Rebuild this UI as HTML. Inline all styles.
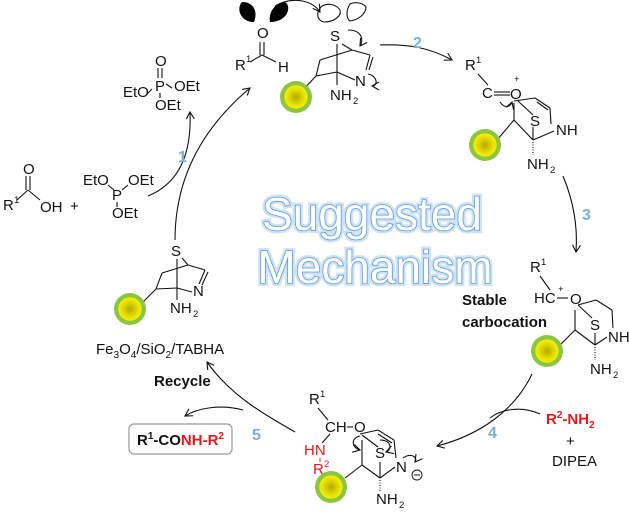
<!DOCTYPE html>
<html><head><meta charset="utf-8"><style>
html,body{margin:0;padding:0;background:#fff;}
svg{display:block;font-family:"Liberation Sans",sans-serif;}
.t{font-size:15px;fill:#111;}
.s{font-size:9.5px;fill:#111;}
.b{font-size:15px;font-weight:bold;fill:#111;}
.n{font-size:16px;font-weight:bold;fill:#7aaed8;}
.r{fill:#e8161b;}
.l{stroke:#111;stroke-width:1.1;fill:none;}
.a{stroke:#111;stroke-width:1.1;fill:none;marker-end:url(#ah);}
</style></head><body>
<svg width="629" height="512" viewBox="0 0 629 512">
<defs>
<marker id="ah" markerWidth="10" markerHeight="10" refX="8" refY="5" orient="auto" markerUnits="userSpaceOnUse"><path d="M1,1 L8,5 L1,9" fill="none" stroke="#111" stroke-width="1.1"/></marker>
<radialGradient id="g"><stop offset="0" stop-color="#b8a800"/><stop offset="0.5" stop-color="#e6e000"/><stop offset="0.72" stop-color="#f2ee10"/><stop offset="0.74" stop-color="#8cc63f"/><stop offset="1" stop-color="#8cc63f"/></radialGradient>
</defs>

<!-- Title -->
<g font-size="46" font-family="'Liberation Sans',sans-serif" fill="#fff" stroke="#5b9bd5" stroke-width="1.6" text-anchor="middle" style="paint-order:stroke">
<text x="372" y="230" stroke="#cfe3f5" stroke-width="6">Suggested</text>
<text x="372" y="230">Suggested</text>
<text x="375" y="283" stroke="#cfe3f5" stroke-width="6">Mechanism</text>
<text x="375" y="283">Mechanism</text>
</g>

<!-- Top: aldehyde with lone pairs -->
<path d="M242,2 C236,8 240,22 254,22 C258,12 254,2 242,2Z" fill="#000"/>
<path d="M285,2 C292,6 288,22 270,22 C268,12 276,2 285,2Z" fill="#000"/>
<path d="M322,6 C316,12 316,20 324,22 C334,22 342,16 340,10 C336,4 328,3 322,6Z" class="l"/>
<path d="M350,4 C346,10 346,18 350,21 C358,20 366,14 366,7 C362,2 354,2 350,4Z" class="l"/>
<path d="M275,6 C292,-4 312,0 320,12" class="a"/>
<text x="257" y="38" class="t">O</text>
<line x1="260" y1="42" x2="260" y2="55" class="l"/><line x1="264" y1="42" x2="264" y2="55" class="l"/>
<line x1="262" y1="55" x2="250" y2="62" class="l"/><line x1="262" y1="55" x2="276" y2="62" class="l"/>
<text x="235" y="70" class="t">R</text><text x="246" y="62" class="s">1</text>
<text x="278" y="72" class="t">H</text>
<!-- top bicyclic -->
<text x="330" y="41" class="t">S</text>
<line x1="337" y1="44" x2="337" y2="72" class="l"/>
<line x1="342" y1="44" x2="352" y2="50" class="l"/><line x1="352" y1="50" x2="370" y2="55" class="l"/>
<line x1="370" y1="55" x2="366" y2="70" class="l"/><line x1="373" y1="57" x2="369" y2="70" class="l"/>
<line x1="352" y1="50" x2="320" y2="60" class="l"/><line x1="320" y1="60" x2="316" y2="76" class="l"/>
<line x1="316" y1="76" x2="337" y2="72" class="l"/><line x1="337" y1="72" x2="355" y2="80" class="l"/>
<line x1="316" y1="76" x2="303" y2="90" class="l"/>
<line x1="337" y1="72" x2="337" y2="85" class="l"/>
<text x="355" y="86" class="t">N</text>
<text x="330" y="100" class="t">NH</text><text x="353" y="104" class="s">2</text>
<path d="M348,30 C362,30 364,40 360,46" class="a"/>
<path d="M368,74 C378,76 378,86 372,86" class="a"/>
<circle cx="296" cy="97" r="16" fill="url(#g)"/>

<!-- Arrow 2 -->
<path d="M380,45 C410,44 430,48 452,60" class="a"/>
<text x="413" y="48" class="n">2</text>

<!-- Top-right structure -->
<text x="465" y="70" class="t">R</text><text x="476" y="63" class="s">1</text>
<line x1="478" y1="74" x2="488" y2="85" class="l"/>
<text x="482" y="98" class="t">C</text>
<line x1="494" y1="92" x2="510" y2="92" class="l"/><line x1="494" y1="95" x2="510" y2="95" class="l"/>
<text x="510" y="99" class="t">O</text><text x="514" y="82" class="s">+</text>
<path d="M500,102 C504,108 510,108 512,102" class="a"/>
<line x1="518" y1="101" x2="533" y2="115" class="l"/>
<line x1="514" y1="101" x2="535" y2="98" class="l"/><line x1="535" y1="98" x2="550" y2="108" class="l"/><line x1="537" y1="102" x2="548" y2="110" class="l"/>
<line x1="550" y1="108" x2="551" y2="124" class="l"/>
<line x1="514" y1="103" x2="514" y2="120" class="l"/>
<text x="530" y="126" class="t">S</text>
<text x="556" y="135" class="t">NH</text>
<line x1="514" y1="120" x2="533" y2="140" class="l"/>
<line x1="533" y1="140" x2="554" y2="131" class="l"/>
<line x1="533" y1="127" x2="533" y2="140" class="l" stroke-width="2.5"/>
<line x1="533" y1="142" x2="533" y2="155" class="l" stroke-dasharray="1 1.5"/>
<line x1="514" y1="120" x2="497" y2="140" class="l"/>
<text x="527" y="169" class="t">NH</text><text x="550" y="173" class="s">2</text>
<circle cx="485" cy="145" r="16" fill="url(#g)"/>

<!-- Arrow 3 -->
<path d="M563,176 C573,200 578,225 576,252" class="a"/>
<text x="582" y="220" class="n">3</text>

<!-- Right structure -->
<text x="530" y="272" class="t">R</text><text x="541" y="265" class="s">1</text>
<line x1="540" y1="276" x2="550" y2="290" class="l"/>
<text x="534" y="303" class="t">HC</text><text x="558" y="292" class="s">+</text>
<line x1="557" y1="298" x2="568" y2="298" class="l"/>
<text x="570" y="304" class="t">O</text>
<line x1="578" y1="305" x2="592" y2="318" class="l"/>
<line x1="578" y1="305" x2="596" y2="300" class="l"/><line x1="596" y1="300" x2="612" y2="310" class="l"/>
<line x1="612" y1="310" x2="613" y2="328" class="l"/>
<line x1="575" y1="310" x2="575" y2="330" class="l"/>
<text x="590" y="330" class="t">S</text>
<text x="608" y="342" class="t">NH</text>
<line x1="575" y1="330" x2="595" y2="345" class="l"/><line x1="595" y1="345" x2="607" y2="337" class="l"/>
<line x1="595" y1="333" x2="595" y2="345" class="l" stroke-width="2.5"/>
<line x1="595" y1="347" x2="595" y2="360" class="l" stroke-dasharray="1 1.5"/>
<line x1="575" y1="330" x2="560" y2="345" class="l"/>
<text x="590" y="374" class="t">NH</text><text x="613" y="378" class="s">2</text>
<circle cx="547" cy="351" r="16" fill="url(#g)"/>
<text x="462" y="305" class="b" font-size="16">Stable</text>
<text x="462" y="327" class="b" font-size="16">carbocation</text>

<!-- Arrow 4 -->
<path d="M532,374 C515,410 480,435 437,446" class="a"/>
<path d="M540,414 C520,405 500,410 490,418" class="l"/>
<text x="488" y="438" class="n">4</text>
<text x="546" y="424" class="b r">R<tspan font-size="10" dy="-6">2</tspan><tspan dy="6">-NH</tspan><tspan font-size="10" dy="4">2</tspan></text>
<text x="566" y="446" class="t">+</text>
<text x="552" y="466" class="t">DIPEA</text>

<!-- Bottom structure -->
<text x="309" y="404" class="t">R</text><text x="320" y="397" class="s">1</text>
<line x1="318" y1="408" x2="328" y2="420" class="l"/>
<text x="325" y="432" class="t">CH</text>
<line x1="347" y1="427" x2="353" y2="427" class="l"/>
<text x="354" y="432" class="t">O</text>
<line x1="330" y1="434" x2="322" y2="443" class="l"/>
<text x="304" y="455" class="t r">HN</text>
<line x1="320" y1="458" x2="320" y2="462" stroke="#e8161b"/>
<text x="313" y="474" class="t r">R</text><text x="324" y="467" font-size="9.5" class="r">2</text>
<line x1="362" y1="435" x2="378" y2="447" class="l"/>
<line x1="360" y1="434" x2="378" y2="430" class="l"/><line x1="378" y1="430" x2="394" y2="440" class="l"/><line x1="378" y1="434" x2="392" y2="443" class="l"/>
<line x1="394" y1="440" x2="396" y2="458" class="l"/>
<line x1="362" y1="440" x2="362" y2="465" class="l"/>
<text x="375" y="458" class="t">S</text>
<text x="396" y="472" class="t">N</text>
<circle cx="417" cy="475" r="5" fill="none" stroke="#111" stroke-width="0.9"/><line x1="414" y1="475" x2="420" y2="475" stroke="#111"/>
<line x1="362" y1="465" x2="380" y2="478" class="l"/><line x1="380" y1="478" x2="395" y2="467" class="l"/>
<line x1="380" y1="462" x2="380" y2="478" class="l" stroke-width="2.5"/>
<line x1="380" y1="480" x2="380" y2="492" class="l" stroke-dasharray="1 1.5"/>
<line x1="362" y1="465" x2="345" y2="478" class="l"/>
<path d="M360,436 C350,438 352,448 360,450" class="a"/>
<path d="M380,440 C392,440 392,450 386,452" class="a"/>
<path d="M403,458 C412,452 418,458 415,462" class="a"/>
<text x="376" y="504" class="t">NH</text><text x="399" y="508" class="s">2</text>
<circle cx="331" cy="487" r="16" fill="url(#g)"/>

<!-- Arrow 5 and recycle -->
<path d="M295,432 C265,415 230,395 207,362" class="a"/>
<text x="252" y="440" class="n">5</text>
<path d="M243,410 C220,404 198,408 185,416" class="a"/>
<text x="154" y="386" class="b" font-size="16">Recycle</text>
<rect x="129" y="424" width="103" height="30" rx="5" fill="#fff" stroke="#999" stroke-width="1.2"/>
<text x="137" y="445" class="b">R<tspan font-size="10" dy="-6">1</tspan><tspan dy="6">-CO</tspan><tspan class="r">NH-R</tspan><tspan class="r" font-size="10" dy="-6">2</tspan></text>

<!-- Left structure -->
<text x="171" y="256" class="t">S</text>
<line x1="177" y1="259" x2="177" y2="288" class="l"/>
<line x1="182" y1="258" x2="188" y2="265" class="l"/><line x1="188" y1="265" x2="205" y2="270" class="l"/>
<line x1="205" y1="270" x2="199" y2="284" class="l"/><line x1="208" y1="272" x2="202" y2="285" class="l"/>
<line x1="188" y1="265" x2="162" y2="273" class="l"/><line x1="162" y1="273" x2="156" y2="289" class="l"/>
<line x1="156" y1="289" x2="177" y2="288" class="l"/><line x1="177" y1="288" x2="192" y2="292" class="l"/>
<line x1="156" y1="289" x2="143" y2="302" class="l"/>
<line x1="177" y1="288" x2="177" y2="300" class="l"/>
<text x="193" y="296" class="t">N</text>
<text x="170" y="313" class="t">NH</text><text x="193" y="317" class="s">2</text>
<circle cx="130" cy="309" r="16" fill="url(#g)"/>
<text x="96" y="354" class="t" font-size="16">Fe<tspan font-size="10" dy="4">3</tspan><tspan dy="-4">O</tspan><tspan font-size="10" dy="4">4</tspan><tspan dy="-4">/SiO</tspan><tspan font-size="10" dy="4">2</tspan><tspan dy="-4">/TABHA</tspan></text>

<!-- Arrow 1 -->
<path d="M175,240 C175,180 200,130 250,88" class="a"/>
<path d="M148,196 C175,185 192,160 190,112" class="a"/>
<text x="178" y="162" class="n">1</text>
<!-- Carboxylic acid -->
<text x="3" y="210" class="t">R</text><text x="14" y="203" class="s">1</text>
<line x1="17" y1="200" x2="28" y2="190" class="l"/><line x1="28" y1="190" x2="40" y2="200" class="l"/>
<line x1="26" y1="190" x2="26" y2="176" class="l"/><line x1="30" y1="190" x2="30" y2="176" class="l"/>
<text x="23" y="174" class="t">O</text>
<text x="40" y="212" class="t">OH</text>
<text x="70" y="211" class="t">+</text>
<!-- phosphite -->
<text x="83" y="185" class="t">EtO</text>
<line x1="108" y1="185" x2="114" y2="190" class="l"/>
<text x="112" y="200" class="t">P</text>
<line x1="122" y1="190" x2="128" y2="185" class="l"/>
<text x="128" y="185" class="t">OEt</text>
<line x1="117" y1="202" x2="117" y2="207" class="l"/>
<text x="112" y="218" class="t">OEt</text>
<!-- phosphate -->
<text x="155" y="66" class="t">O</text>
<line x1="158" y1="68" x2="158" y2="78" class="l"/><line x1="162" y1="68" x2="162" y2="78" class="l"/>
<text x="155" y="91" class="t">P</text>
<line x1="152" y1="89" x2="147" y2="94" class="l"/>
<text x="123" y="97" class="t">EtO</text>
<line x1="166" y1="84" x2="172" y2="88" class="l"/>
<text x="174" y="91" class="t">OEt</text>
<line x1="160" y1="93" x2="160" y2="98" class="l"/>
<text x="155" y="110" class="t">OEt</text>
</svg>
</body></html>
